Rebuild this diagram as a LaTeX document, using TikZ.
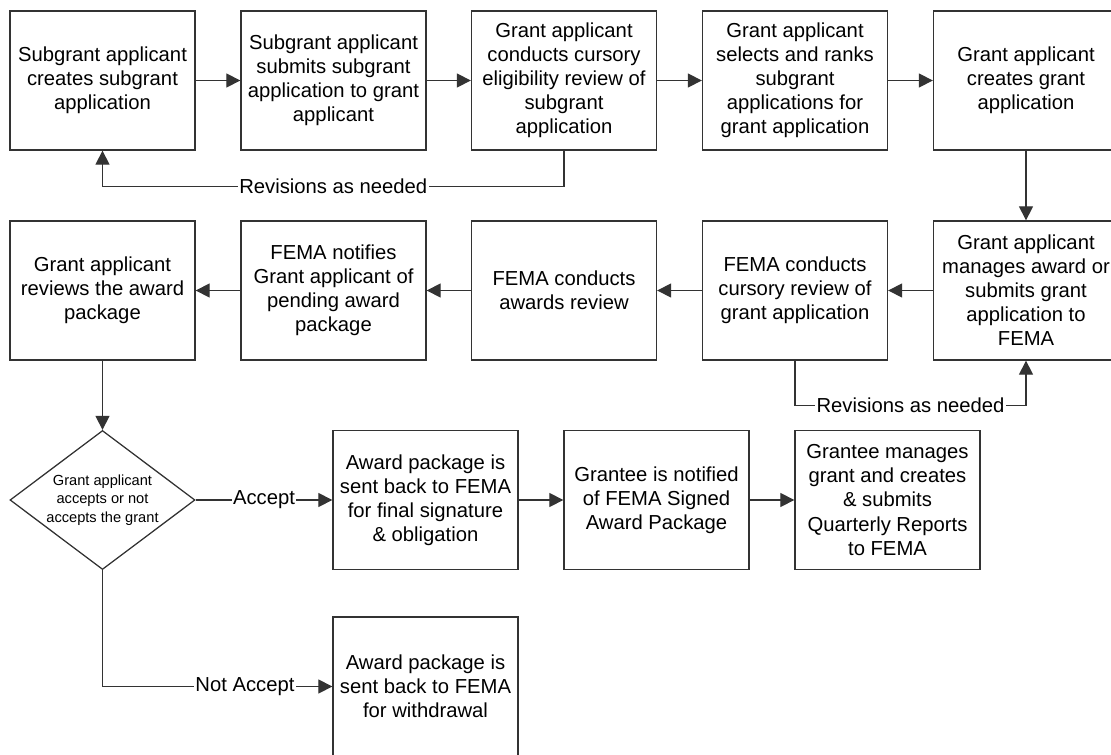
\documentclass[tikz,border=0pt]{standalone}
\usepackage{fontspec}
\setmainfont{Liberation Sans}
\usetikzlibrary{arrows.meta,shapes.geometric}

\tikzset{
  >={Triangle[length=10pt,width=10pt]},
  stepbox/.style={draw=black!80, line width=0.9pt, minimum width=4.625cm,
    minimum height=3.475cm, align=center, inner sep=2pt,
    font=\fontsize{14.4}{17.1}\selectfont},
  choice/.style={diamond, draw=black!80, line width=0.9pt, aspect=1.33,
    minimum width=4.625cm, minimum height=3.475cm, inner sep=0pt,
    align=center, font=\fontsize{10.4}{13.3}\selectfont},
  flow/.style={draw=black!80, line width=0.9pt},
  tag/.style={fill=white, inner sep=1pt, font=\fontsize{14.4}{17.1}\selectfont},
}

\begin{document}
\begin{tikzpicture}[x=0.025cm,y=-0.025cm]
    \useasboundingbox (0,0) rectangle (1111,755);
    \clip (0,0) rectangle (1111,755);
    % first row, left to right
    \node[stepbox] (create) at (102.5,80.5)
      {Subgrant applicant\\creates subgrant\\application};
    \node[stepbox] (submit) at (333.5,80.5)
      {Subgrant applicant\\submits subgrant\\application to grant\\applicant};
    \node[stepbox] (screen) at (564,80.5)
      {Grant applicant\\conducts cursory\\eligibility review of\\subgrant\\application};
    \node[stepbox] (rank) at (795,80.5)
      {Grant applicant\\selects and ranks\\subgrant\\applications for\\grant application};
    \node[stepbox] (grantapp) at (1026,80.5)
      {Grant applicant\\creates grant\\application};
    % second row, right to left
    \node[stepbox] (manage) at (1026,290.5)
      {Grant applicant\\manages award or\\submits grant\\application to\\FEMA};
    \node[stepbox] (femarev) at (795,290.5)
      {FEMA conducts\\cursory review of\\grant application};
    \node[stepbox] (awards) at (564,290.5)
      {FEMA conducts\\awards review};
    \node[stepbox] (notify) at (333.5,290.5)
      {FEMA notifies\\Grant applicant of\\pending award\\package};
    \node[stepbox] (review) at (102.5,290.5)
      {Grant applicant\\reviews the award\\package};
    % decision and outcomes
    \node[choice] (decide) at (102.5,500)
      {Grant applicant\\accepts or not\\accepts the grant};
    \node[stepbox] (accept) at (425.5,500)
      {Award package is\\sent back to FEMA\\for final signature\\\& obligation};
    \node[stepbox] (signed) at (656.5,500)
      {Grantee is notified\\of FEMA Signed\\Award Package};
    \node[stepbox] (quarterly) at (887.5,500)
      {Grantee manages\\grant and creates\\\& submits\\Quarterly Reports\\to FEMA};
    \node[stepbox] (withdraw) at (425.5,686.5)
      {Award package is\\sent back to FEMA\\for withdrawal};

    \foreach \a/\b in {create/submit,submit/screen,screen/rank,rank/grantapp,
      manage/femarev,femarev/awards,awards/notify,notify/review,
      accept/signed,signed/quarterly} {
      \draw[flow,->] (\a) -- (\b);
    }
    \draw[flow,->] (grantapp) -- (manage);
    \draw[flow,->] (review) -- (decide);

    \draw[flow,->] (screen.south) -- ++(0,35.5)
      -| node[tag,pos=0.25]{Revisions as needed} (create.south);
    \draw[flow,->] (femarev.south) -- ++(0,45)
      -| node[tag,pos=0.25]{Revisions as needed} (manage.south);
    \draw[flow,->] (decide.east) -- node[tag]{Accept} (accept.west);
    \draw[flow,->] (decide.south) |- node[tag,pos=0.81]{Not Accept} (withdraw.west);
  \end{tikzpicture}
\end{document}
